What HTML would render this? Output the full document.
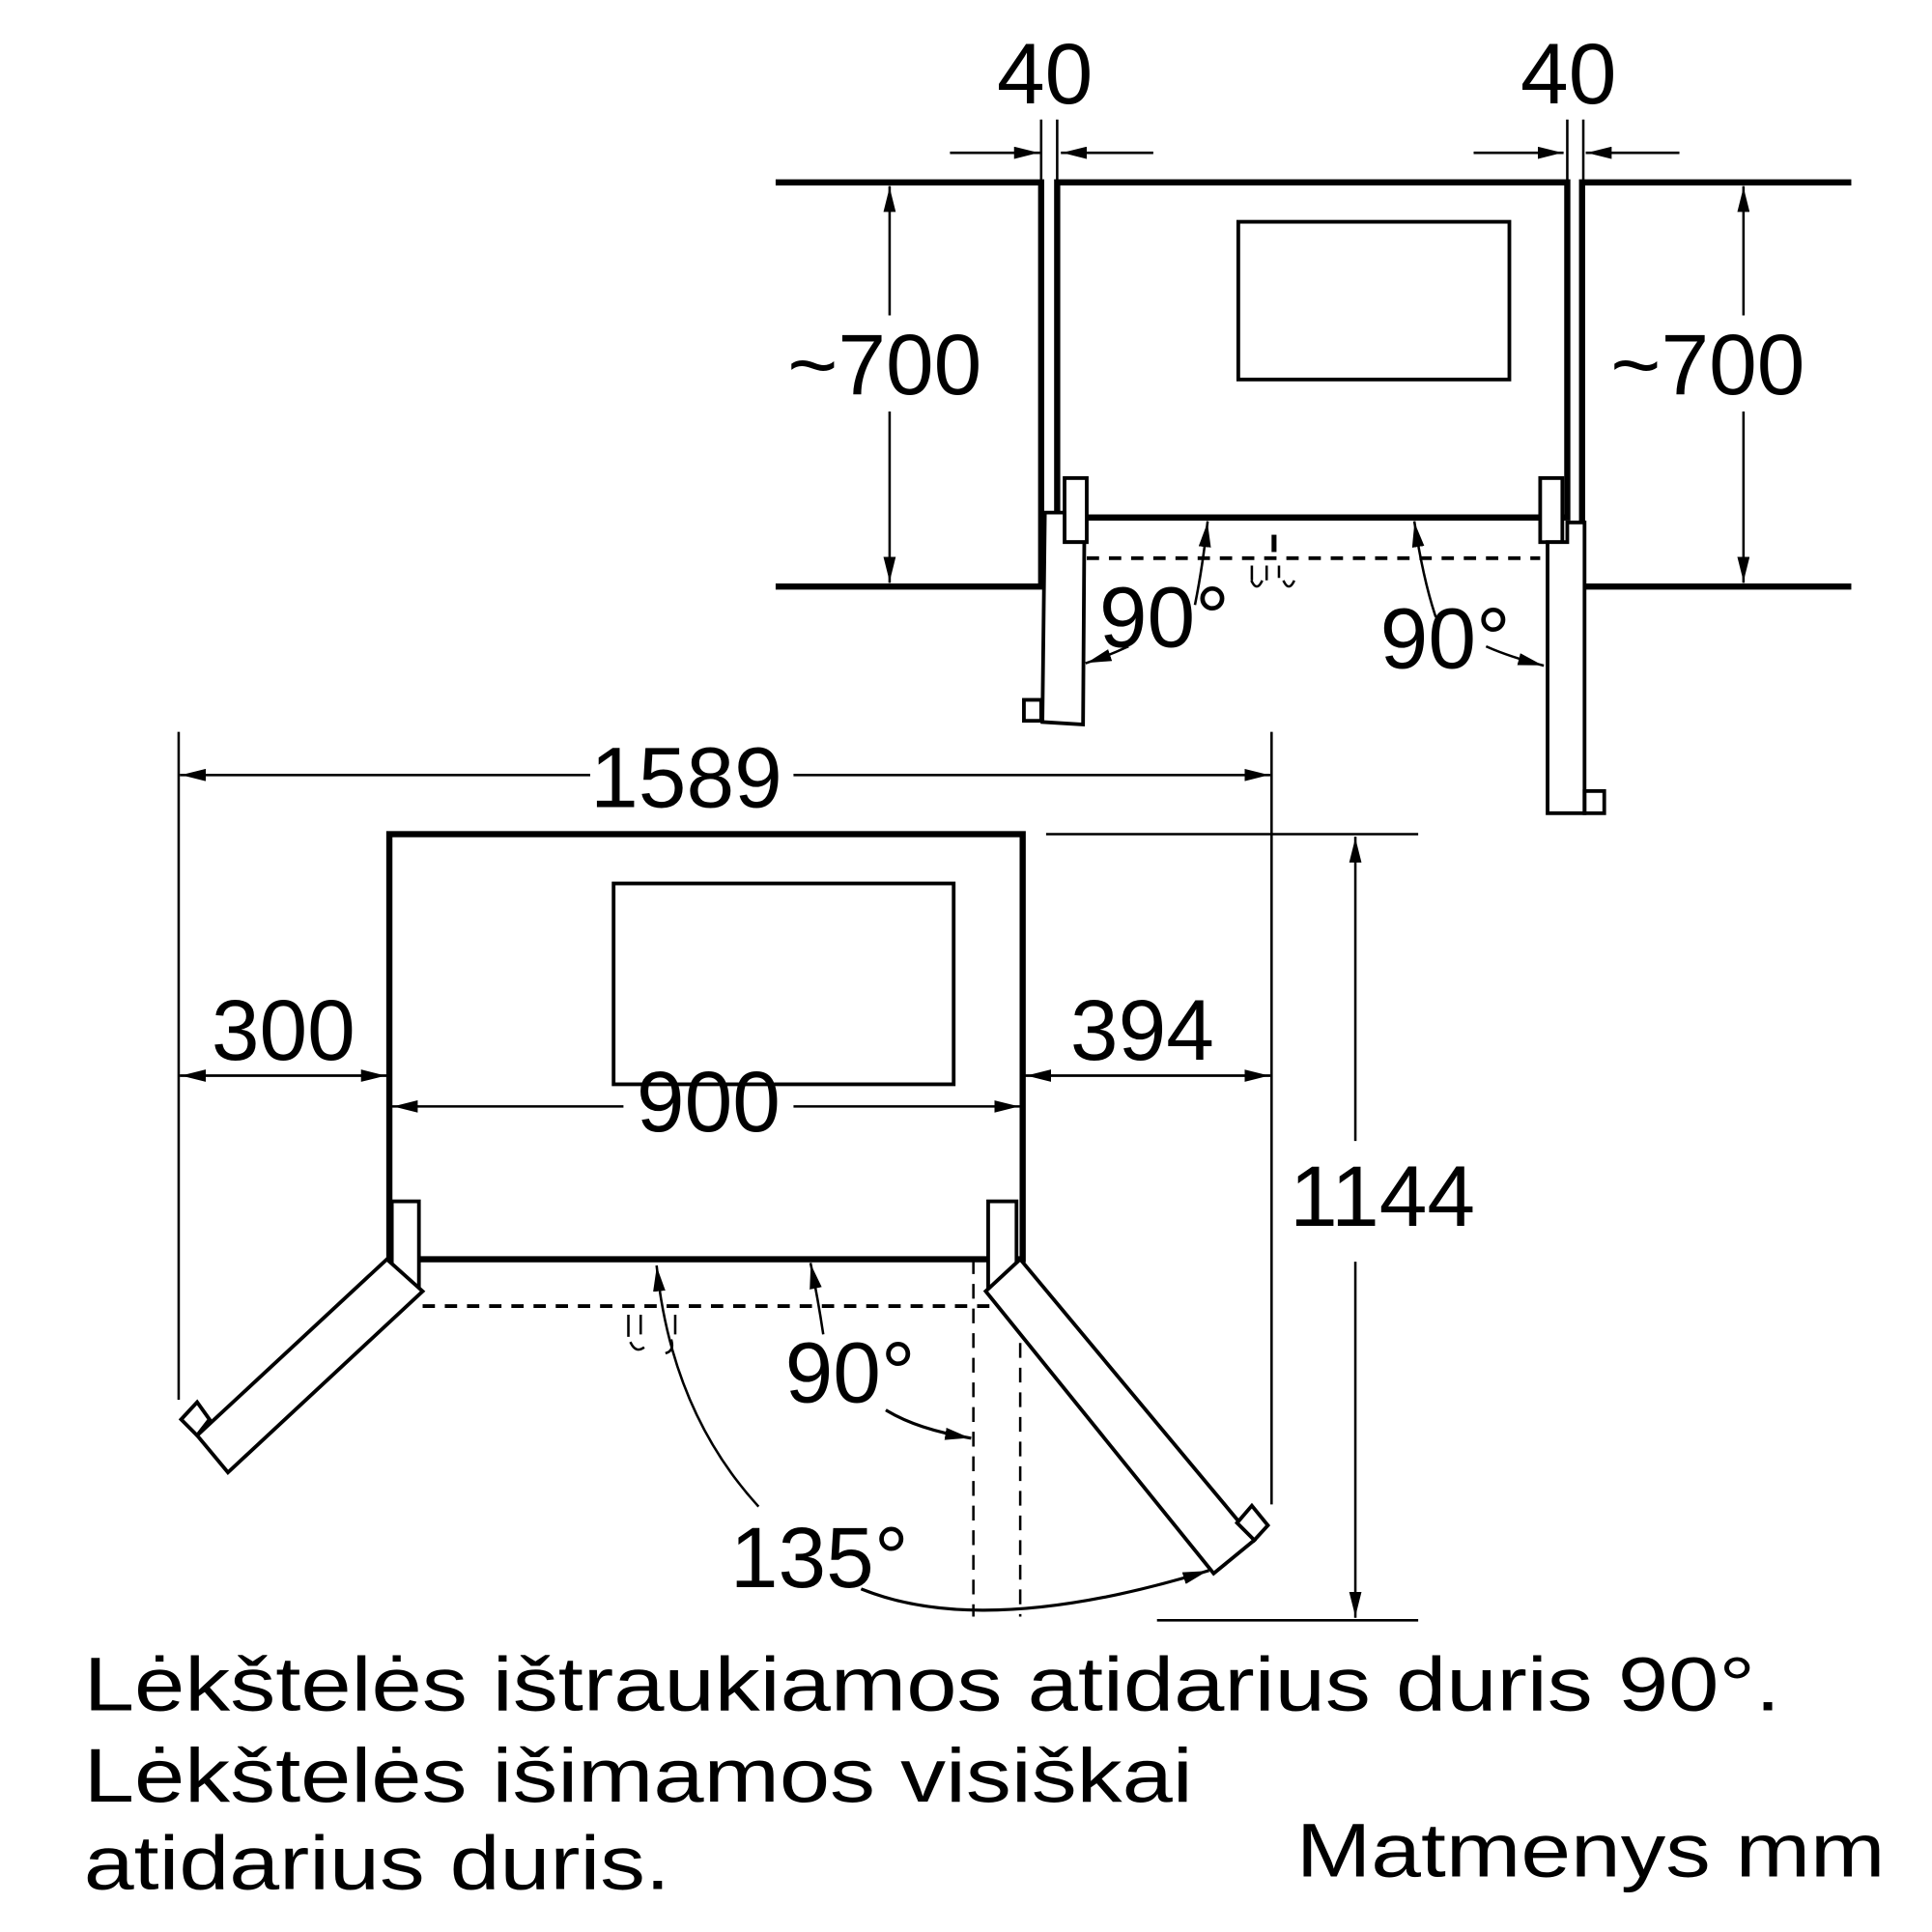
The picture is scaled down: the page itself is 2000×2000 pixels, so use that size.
<!DOCTYPE html>
<html><head><meta charset="utf-8"><style>
html,body{margin:0;padding:0;background:#fff;}
svg{display:block}
text{font-family:"Liberation Sans",sans-serif;fill:#000}
</style></head><body>
<svg width="2000" height="2000" viewBox="0 0 1568 1568" xmlns="http://www.w3.org/2000/svg">
<defs>
<marker id="a" viewBox="0 0 20 10" refX="20" refY="5" markerWidth="20" markerHeight="10" markerUnits="userSpaceOnUse" orient="auto"><path d="M0,0 L20,5 L0,10 Z" fill="#000"/></marker>
</defs>
<g fill="none" stroke="#000" stroke-linecap="square">
<!-- TOP DIAGRAM -->
<polyline points="632,148 845,148 845,476 632,476" stroke-width="5"/>
<polyline points="1500,148 1284,148 1284,476 1500,476" stroke-width="5"/>
<rect x="858" y="148" width="414" height="272" stroke-width="5"/>
<rect x="1005" y="180" width="220" height="128" stroke-width="3"/>
<rect x="864" y="388" width="18" height="52" stroke-width="3" fill="#fff"/>
<rect x="1250" y="388" width="18" height="52" stroke-width="3" fill="#fff"/>
<polygon points="848,416 864,416 864,440 880,440 879,588 846,586" stroke-width="3" fill="#fff"/>
<rect x="831" y="568" width="14" height="17" stroke-width="3"/>
<polygon points="1256,440 1272,440 1272,424 1286,424 1286,660 1256,660" stroke-width="3" fill="#fff"/>
<rect x="1286" y="642" width="16" height="18" stroke-width="3"/>
<line x1="882" y1="453" x2="1250" y2="453" stroke-width="3" stroke-dasharray="10,8" stroke-linecap="butt"/>
<line x1="1034" y1="436" x2="1034" y2="446" stroke-width="4"/>
<path d="M1016,460 v10 M1028,460 v10 M1038,460 v8 M1016,472 q4,8 8,0 M1042,472 q4,8 8,0" stroke-width="2"/>
<!-- 40 dims -->
<line x1="772" y1="124" x2="843" y2="124" stroke-width="2" marker-end="url(#a)"/>
<line x1="935" y1="124" x2="862" y2="124" stroke-width="2" marker-end="url(#a)"/>
<line x1="1197" y1="124" x2="1268" y2="124" stroke-width="2" marker-end="url(#a)"/>
<line x1="1362" y1="124" x2="1288" y2="124" stroke-width="2" marker-end="url(#a)"/>
<line x1="845" y1="98" x2="845" y2="148" stroke-width="2"/>
<line x1="858" y1="98" x2="858" y2="148" stroke-width="2"/>
<line x1="1272" y1="98" x2="1272" y2="148" stroke-width="2"/>
<line x1="1285" y1="98" x2="1285" y2="148" stroke-width="2"/>
<!-- ~700 -->
<line x1="722" y1="255" x2="722" y2="152" stroke-width="2" marker-end="url(#a)"/>
<line x1="722" y1="335" x2="722" y2="472" stroke-width="2" marker-end="url(#a)"/>
<line x1="1415" y1="255" x2="1415" y2="152" stroke-width="2" marker-end="url(#a)"/>
<line x1="1415" y1="335" x2="1415" y2="472" stroke-width="2" marker-end="url(#a)"/>
<!-- 90 arrows top -->
<path d="M970,490 Q976,460 980,424" stroke-width="2" marker-end="url(#a)"/>
<path d="M915,525 Q900,532 882,538" stroke-width="2" marker-end="url(#a)"/>
<path d="M1165,500 Q1155,470 1148,424" stroke-width="2" marker-end="url(#a)"/>
<path d="M1207,525 Q1225,533 1252,540" stroke-width="2" marker-end="url(#a)"/>

<!-- BOTTOM DIAGRAM -->
<rect x="316" y="677" width="514" height="345" stroke-width="5"/>
<rect x="498" y="717" width="276" height="163" stroke-width="3"/>
<line x1="145" y1="595" x2="145" y2="1135" stroke-width="2"/>
<line x1="1032" y1="595" x2="1032" y2="1220" stroke-width="2"/>
<line x1="478" y1="629" x2="147" y2="629" stroke-width="2" marker-end="url(#a)"/>
<line x1="645" y1="629" x2="1030" y2="629" stroke-width="2" marker-end="url(#a)"/>
<line x1="147" y1="873" x2="313" y2="873" stroke-width="2" marker-end="url(#a)"/>
<line x1="313" y1="873" x2="147" y2="873" stroke-width="2" marker-end="url(#a)"/>
<line x1="833" y1="873" x2="1030" y2="873" stroke-width="2" marker-end="url(#a)"/>
<line x1="1030" y1="873" x2="833" y2="873" stroke-width="2" marker-end="url(#a)"/>
<line x1="505" y1="898" x2="319" y2="898" stroke-width="2" marker-end="url(#a)"/>
<line x1="645" y1="898" x2="827" y2="898" stroke-width="2" marker-end="url(#a)"/>
<line x1="850" y1="677" x2="1150" y2="677" stroke-width="2"/>
<line x1="940" y1="1315" x2="1150" y2="1315" stroke-width="2"/>
<line x1="1100" y1="925" x2="1100" y2="680" stroke-width="2" marker-end="url(#a)"/>
<line x1="1100" y1="1025" x2="1100" y2="1312" stroke-width="2" marker-end="url(#a)"/>
<!-- hinges -->
<rect x="318" y="975" width="22" height="70" stroke-width="3" fill="#fff"/>
<rect x="802" y="975" width="23" height="70" stroke-width="3" fill="#fff"/>
<!-- left door -->
<polygon points="314,1022 343,1048 185,1195 160,1165" stroke-width="3" fill="#fff"/>
<polygon points="160,1165 147,1152 160,1138 170,1152" stroke-width="3" fill="#fff"/>
<!-- right door -->
<polygon points="828,1022 1018,1250 985,1277 800,1048" stroke-width="3" fill="#fff"/>
<polygon points="1004,1236 1016,1222 1029,1238 1018,1250" stroke-width="3" fill="#fff"/>
<!-- dashed -->
<line x1="343" y1="1060" x2="806" y2="1060" stroke-width="3" stroke-dasharray="10,8" stroke-linecap="butt"/>
<line x1="790" y1="1022" x2="790" y2="1312" stroke-width="2" stroke-dasharray="12,8" stroke-linecap="butt"/>
<line x1="828" y1="1090" x2="828" y2="1312" stroke-width="2" stroke-dasharray="12,8" stroke-linecap="butt"/>
<path d="M510,1068 v16 M520,1068 v14 M548,1068 v14 M512,1090 q4,8 10,4 M545,1088 q2,8 -4,10" stroke-width="2"/>
<!-- arcs -->
<path d="M615,1222 Q545,1145 533,1028" stroke-width="2" marker-end="url(#a)"/>
<path d="M668,1082 Q664,1055 658,1026" stroke-width="2" marker-end="url(#a)"/>
<path d="M720,1145 Q745,1160 787,1167" stroke-width="2.5" marker-end="url(#a)"/>
<path d="M700,1290 Q800,1330 980,1275" stroke-width="2.5" marker-end="url(#a)"/>
</g>
<g font-size="70">
<text x="848" y="84" text-anchor="middle">40</text>
<text x="1273" y="84" text-anchor="middle">40</text>
<text x="718" y="320" text-anchor="middle">~700</text>
<text x="1386" y="320" text-anchor="middle">~700</text>
<text x="945" y="525" text-anchor="middle">90°</text>
<text x="1173" y="542" text-anchor="middle">90°</text>
<text x="557" y="655" text-anchor="middle">1589</text>
<text x="230" y="860" text-anchor="middle">300</text>
<text x="927" y="860" text-anchor="middle">394</text>
<text x="575" y="918" text-anchor="middle">900</text>
<text x="1122" y="995" text-anchor="middle">1144</text>
<text x="690" y="1138" text-anchor="middle">90°</text>
<text x="665" y="1288" text-anchor="middle">135°</text>
</g>
<g font-size="62">
<text x="68" y="1388" textLength="1377" lengthAdjust="spacingAndGlyphs">Lėkštelės ištraukiamos atidarius duris 90°.</text>
<text x="68" y="1462" textLength="900" lengthAdjust="spacingAndGlyphs">Lėkštelės išimamos visiškai</text>
<text x="68" y="1533" textLength="476" lengthAdjust="spacingAndGlyphs">atidarius duris.</text>
<text x="1052" y="1523" textLength="478" lengthAdjust="spacingAndGlyphs">Matmenys mm</text>
</g>
</svg>
</body></html>
